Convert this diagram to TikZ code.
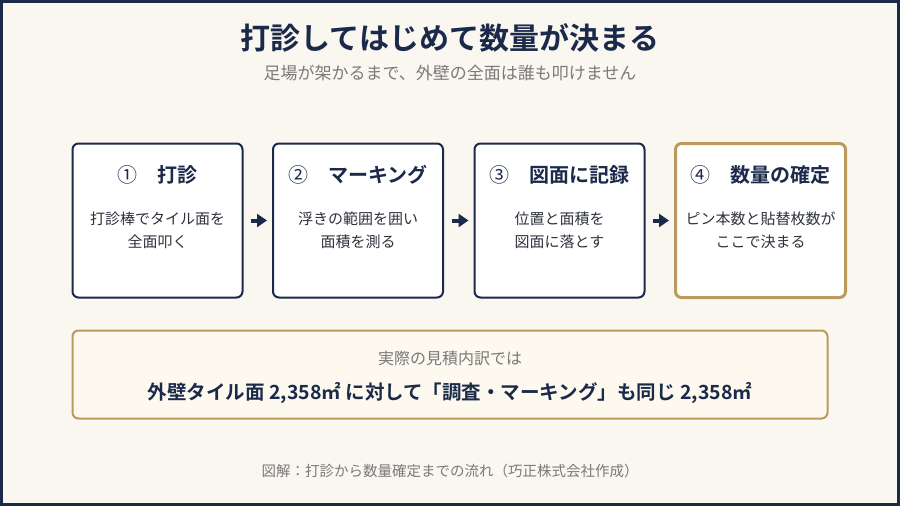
\documentclass[tikz,border=0pt]{standalone}
\usepackage{fontspec}
\setmainfont{Noto Sans CJK JP}[BoldFont={Noto Sans CJK JP Bold}]
\usetikzlibrary{arrows.meta}
\definecolor{navy}{HTML}{1B2A4A}
\definecolor{gold}{HTML}{BC9A5E}
\definecolor{graytext}{HTML}{7A7A7A}
\definecolor{cream}{HTML}{F9F7F0}
\definecolor{creambox}{HTML}{FDF9EF}
\definecolor{bodytext}{HTML}{2E323C}
\tikzset{
  stepbox/.style={draw=navy, line width=2pt, fill=white, rounded corners=6pt,
    minimum width=170pt, minimum height=154pt, inner sep=0pt},
  finalbox/.style={stepbox, draw=gold, line width=3pt},
  steptitle/.style={text=navy, font=\fontsize{20}{24}\selectfont\bfseries, inner sep=0pt},
  stepdesc/.style={text=bodytext, align=center, font=\fontsize{15}{23.5}\selectfont, inner sep=0pt},
  flowarrow/.style={draw=navy, line width=4pt, -{Triangle[length=10pt,width=13pt]},
    shorten <=7.5pt, shorten >=5pt},
}
\begin{document}
\begin{tikzpicture}[x=1pt,y=-1pt]
\useasboundingbox (0,0) rectangle (900,506);
\fill[navy] (0,0) rectangle (900,506);
\fill[cream] (3,3) rectangle (897,503);

\node[text=navy, font=\fontsize{30}{35}\selectfont\bfseries, inner sep=0pt] (title) at (450,38) {打診してはじめて数量が決まる};
\node[text=graytext, font=\fontsize{17}{20}\selectfont, inner sep=0pt] (subtitle) at (450,73) {足場が架かるまで、外壁の全面は誰も叩けません};

\node[stepbox] (b1) at (157.5,220.5) {};
\node[stepbox] (b2) at (358,220.5) {};
\node[stepbox] (b3) at (559.5,220.5) {};
\node[finalbox] (b4) at (760.5,220.5) {};

\node[steptitle] (t1) at (157.5,175) {{\mdseries ①}　打診};
\node[steptitle] (t2) at (358,175) {{\mdseries ②}　マーキング};
\node[steptitle] (t3) at (559.5,175) {{\mdseries ③}　図面に記録};
\node[steptitle] (t4) at (760.5,175) {{\mdseries ④}　数量の確定};

\node[stepdesc] (d1) at (157.5,230.5) {打診棒でタイル面を\\全面叩く};
\node[stepdesc] (d2) at (358,230.5) {浮きの範囲を囲い\\面積を測る};
\node[stepdesc] (d3) at (559.5,230.5) {位置と面積を\\図面に落とす};
\node[stepdesc] (d4) at (760.5,230.5) {ピン本数と貼替枚数が\\ここで決まる};

\draw[flowarrow] (b1.east) -- (b2.west);
\draw[flowarrow] (b2.east) -- (b3.west);
\draw[flowarrow] (b3.east) -- (b4.west);

\node[draw=gold, line width=2pt, fill=creambox, rounded corners=6pt,
  minimum width=755pt, minimum height=88pt, inner sep=0pt] (summary) at (450,374.5) {};
\node[text=graytext, font=\fontsize{16}{20}\selectfont, inner sep=0pt] (s1) at (450,358) {実際の見積内訳では};
\node[text=navy, font=\fontsize{19.5}{23}\selectfont\bfseries, inner sep=0pt] (s2) at (450,393) {外壁タイル面 2,358㎡ に対して「調査・マーキング」も同じ 2,358㎡};

\node[text=graytext, font=\fontsize{14.5}{18}\selectfont, inner sep=0pt] (footer) at (450,471) {図解：打診から数量確定までの流れ（巧正株式会社作成）};
\end{tikzpicture}
\end{document}
